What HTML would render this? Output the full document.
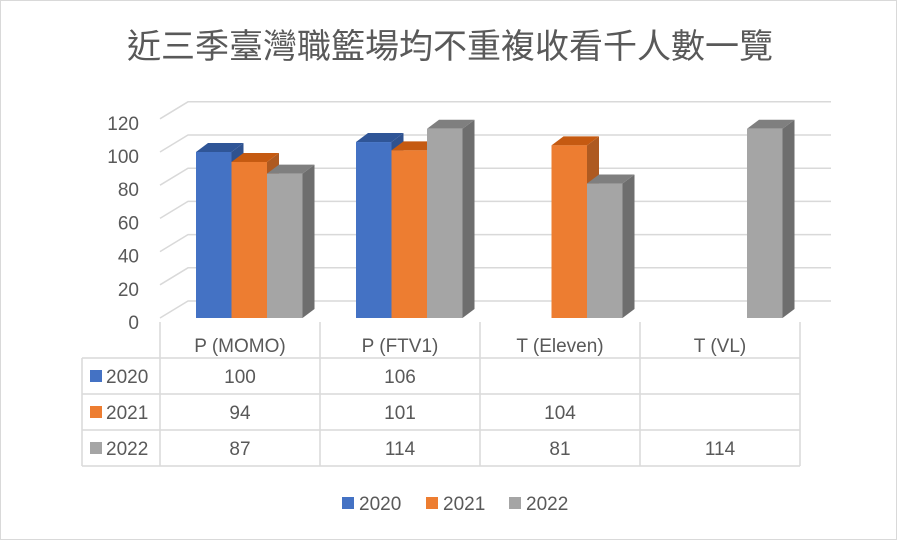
<!DOCTYPE html>
<html><head><meta charset="utf-8"><style>
html,body{margin:0;padding:0;background:#fff;}
svg{display:block;font-family:"Liberation Sans","Noto Sans CJK TC",sans-serif;}
</style></head><body>
<svg id="c" width="900" height="541" viewBox="0 0 900 541">
<rect x="0.5" y="0.5" width="896" height="539" fill="#fff" stroke="#d9d9d9"/>
<text x="450" y="58" text-anchor="middle" font-size="34" fill="#595959" font-family="'Liberation Sans','Noto Sans CJK TC',sans-serif">近三季臺灣職籃場均不重複收看千人數一覽</text>
<g id="grid"></g><g id="bars"></g><g id="table"></g><g id="legend"></g>
</svg>
<script>
const categories=["P (MOMO)","P (FTV1)","T (Eleven)","T (VL)"];
const seriesNames=["2020","2021","2022"];
const s2020=[100,106,null,null];
const s2021=[94,101,104,null];
const s2022=[87,114,81,114];
const yTicks=[0,20,40,60,80,100,120];
const series=[s2020,s2021,s2022];
const front=["#4472c4","#ed7d31","#a5a5a5"];
const top_=["#2f5597","#c55a11","#7f7f7f"];
const side=["#2f528f","#ae5a21","#6e6e6e"];
const NS="http://www.w3.org/2000/svg";
function mk(t,a,p){const e=document.createElementNS(NS,t);for(const k in a)e.setAttribute(k,a[k]);p.appendChild(e);return e;}
const x0=160,catW=160,floorY=318,k=1.66,dx=12,dy=9,depthX=28,depthY=17;
function y(v){return floorY-v*k;}
const grid=document.getElementById('grid');
yTicks.forEach(t=>{
  const yb=y(t)-depthY;
  const l=mk('polyline',{points:`${x0},${y(t)} ${x0+depthX},${yb} ${x0+catW*4+31},${yb}`,fill:'none',stroke:'#d9d9d9','stroke-width':1.5},grid);
  
  
  const tx=mk('text',{x:139,y:y(t)+11,'text-anchor':'end','font-size':19,fill:'#595959'},grid);tx.textContent=t;
  
  
});
const bars=document.getElementById('bars');
const bw=35.5;
categories.forEach((c,i)=>{
  series.forEach((s,j)=>{
    const v=s[i];if(v==null)return;
    const bx=x0+catW*i+36+bw*j,by=y(v);
    const g=mk('g',{},bars);
    
    
    mk('polygon',{points:`${bx+bw},${by} ${bx+bw+dx},${by-dy} ${bx+bw+dx},${floorY-dy} ${bx+bw},${floorY}`,fill:side[j]},g);
    mk('polygon',{points:`${bx},${by} ${bx+dx},${by-dy} ${bx+bw+dx},${by-dy} ${bx+bw},${by}`,fill:top_[j]},g);
    mk('rect',{x:bx,y:by,width:bw,height:floorY-by,fill:front[j]},g);
  });
});
const tb=document.getElementById('table');
const rowY=[358,394,430,466];
const st={stroke:'#d9d9d9','stroke-width':1.5};
for(let i=0;i<=4;i++){const l=mk('line',Object.assign({x1:x0+catW*i,y1:322,x2:x0+catW*i,y2:466},st),tb);
  
  }
mk('line',Object.assign({x1:82,y1:358,x2:82,y2:466},st),tb);
rowY.forEach(r=>{mk('line',Object.assign({x1:82,y1:r,x2:800,y2:r},st),tb);});
categories.forEach((c,i)=>{const t=mk('text',{x:x0+catW*i+80,y:352,'text-anchor':'middle','font-size':19,fill:'#595959'},tb);t.textContent=c;
  
  });
series.forEach((s,j)=>{
  const cy=rowY[j]+18;
  mk('rect',{x:90,y:cy-6,width:12,height:12,fill:front[j]},tb);
  const n=mk('text',{x:106,y:cy+7,'font-size':19,fill:'#595959'},tb);n.textContent=seriesNames[j];
  
  
  s.forEach((v,i)=>{if(v==null)return;const t=mk('text',{x:x0+catW*i+80,y:cy+7,'text-anchor':'middle','font-size':19,fill:'#595959'},tb);t.textContent=v;
    
    });
});
const lg=document.getElementById('legend');
const lx=[342,426,509];
seriesNames.forEach((n,j)=>{
  const g=mk('g',{},lg);
  
  
  mk('rect',{x:lx[j],y:497,width:12,height:12,fill:front[j]},g);
  const t=mk('text',{x:lx[j]+17,y:510,'font-size':19,fill:'#595959'},g);t.textContent=n;
});
</script>
</body></html>
